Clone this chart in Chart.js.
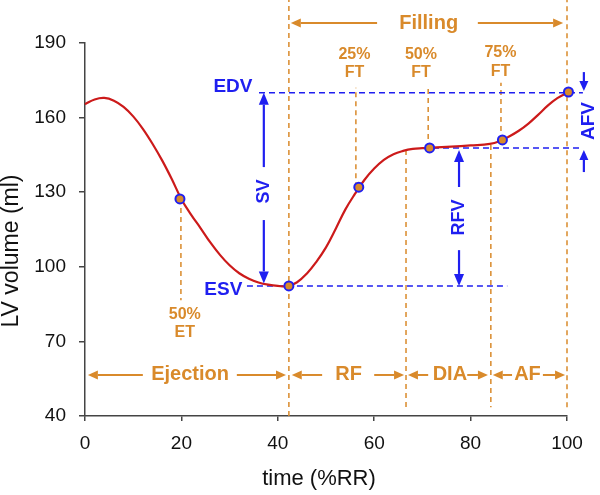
<!DOCTYPE html>
<html><head><meta charset="utf-8">
<script src="https://cdn.jsdelivr.net/npm/chart.js@4/dist/chart.umd.min.js"></script>
<style>html,body{margin:0;padding:0;background:#fff;}canvas{display:block;}</style>
</head><body>
<canvas id="c" width="600" height="495"></canvas>
<script>
// ---- data (time in %RR, LV volume in ml) ----
const timeValues   = [0, 2, 4, 6, 8, 10, 12, 14, 16, 18, 20, 22, 24, 26, 28, 30, 32, 34, 36, 38, 40, 42, 44, 46, 48, 50, 52, 54, 56, 58, 60, 62, 64, 66, 68, 70, 72, 76, 80, 84, 86, 88, 90, 92, 94, 96, 98, 100.3];
const volumeValues = [165.4, 167.3, 167.9, 166.8, 164.3, 160.5, 155.5, 149.5, 142.8, 135.3, 127.2, 121.0, 115.5, 109.8, 104.8, 100.6, 97.4, 95.2, 93.7, 92.8, 92.3, 92.2, 93.8, 97.2, 102.0, 107.8, 115.2, 123.0, 129.3, 135.0, 139.5, 143.0, 145.3, 146.6, 147.4, 147.7, 147.9, 148.3, 148.8, 149.4, 150.5, 152.4, 154.7, 157.6, 161.1, 164.8, 167.8, 170.3];
const markerTimes   = [19.7, 42.3, 56.8, 71.5, 86.6, 100.3];
const markerVolumes = [127.3, 92.3, 132.0, 147.8, 151.0, 170.3];
const xTickValues = [0, 20, 40, 60, 80, 100];
const yTickValues = [40, 70, 100, 130, 160, 190];
const edv = 170, esv = 92.3, rfv = 147.8;

const ORANGE = '#d98a2b', BLUE = '#1f1ff0', AXIS = '#444';
const FONT = '"Liberation Sans", Arial, sans-serif';

// annotation geometry in data units
const orangeV = [ // time, from, to
  [42.3, 40, 208], [100, 43.5, 208], [66.6, 147, 43.5], [84.2, 149, 43.5],
  [19.9, 127.3, 86.5], [56.2, 132, 172], [71.2, 147.8, 172], [86.3, 151, 174]
];
const blueH = [ // volume, from, to
  [edv, 36.1, 103.3], [rfv, 72.2, 103.3], [esv, 33.6, 87.6]
];
const phases = [ // name, leftTip, leftEnd, textCenter, rightStart, rightTip, volume
  ['Ejection', 0.6, 12.0, 21.8, 31.5, 41.7, 56.5],
  ['RF', 42.9, 49.2, 54.7, 60.0, 66.2, 56.5],
  ['DIA', 67.0, 71.2, 75.7, 79.3, 83.6, 56.5],
  ['AF', 84.6, 88.6, 91.8, 95.0, 99.6, 56.5],
  ['Filling', 42.7, 60.6, 71.3, 81.5, 99.2, 198]
];

function arrow(ctx, x1, y1, x2, y2, color, lw, hl, hw) {
  const a = Math.atan2(y2 - y1, x2 - x1);
  const bx = x2 - hl * Math.cos(a), by = y2 - hl * Math.sin(a);
  ctx.save();
  ctx.strokeStyle = color; ctx.fillStyle = color; ctx.lineWidth = lw; ctx.setLineDash([]);
  ctx.beginPath(); ctx.moveTo(x1, y1); ctx.lineTo(bx, by); ctx.stroke();
  ctx.beginPath();
  ctx.moveTo(x2, y2);
  ctx.lineTo(bx + hw / 2 * Math.sin(a), by - hw / 2 * Math.cos(a));
  ctx.lineTo(bx - hw / 2 * Math.sin(a), by + hw / 2 * Math.cos(a));
  ctx.closePath(); ctx.fill();
  ctx.restore();
}
function text(ctx, s, x, y, font, color, rot) {
  ctx.save();
  ctx.font = font; ctx.fillStyle = color; ctx.textAlign = 'center'; ctx.textBaseline = 'middle';
  ctx.translate(x, y); if (rot) ctx.rotate(rot);
  ctx.fillText(s, 0, 0);
  ctx.restore();
}

const annot = {
  id: 'annot',
  beforeDatasetsDraw(chart) {
    const ctx = chart.ctx, X = chart.scales.x, Y = chart.scales.y;
    const px = t => X.getPixelForValue(t), py = v => Y.getPixelForValue(v);
    ctx.save();
    ctx.lineWidth = 1.5;
    ctx.strokeStyle = ORANGE; ctx.setLineDash([5, 4]);
    orangeV.forEach(([t, a, b]) => {
      ctx.beginPath(); ctx.moveTo(px(t), py(a)); ctx.lineTo(px(t), py(b)); ctx.stroke();
    });
    ctx.strokeStyle = BLUE; ctx.setLineDash([6, 4]);
    blueH.forEach(([v, a, b]) => {
      ctx.beginPath(); ctx.moveTo(px(a), py(v)); ctx.lineTo(px(b), py(v)); ctx.stroke();
    });
    ctx.restore();
  },
  afterDatasetsDraw(chart) {
    const ctx = chart.ctx, X = chart.scales.x, Y = chart.scales.y;
    const px = t => X.getPixelForValue(t), py = v => Y.getPixelForValue(v);
    phases.forEach(([name, lt, le, tc, rs, rt, v]) => {
      const y = py(v);
      arrow(ctx, px(le), y, px(lt), y, ORANGE, 2, 10, 9);
      arrow(ctx, px(rs), y, px(rt), y, ORANGE, 2, 10, 9);
      text(ctx, name, px(tc), y, 'bold 20px ' + FONT, ORANGE);
    });
    const fb = 'bold 16px ' + FONT;
    text(ctx, '50%', px(20.7), py(80.6), fb, ORANGE); text(ctx, 'ET', px(20.7), py(73.4), fb, ORANGE);
    text(ctx, '25%', px(55.9), py(185.2), fb, ORANGE); text(ctx, 'FT', px(55.9), py(177.9), fb, ORANGE);
    text(ctx, '50%', px(69.7), py(185.2), fb, ORANGE); text(ctx, 'FT', px(69.7), py(177.9), fb, ORANGE);
    text(ctx, '75%', px(86.2), py(186.0), fb, ORANGE); text(ctx, 'FT', px(86.2), py(178.5), fb, ORANGE);
    text(ctx, 'EDV', px(30.7), py(172.3), 'bold 19px ' + FONT, BLUE);
    text(ctx, 'ESV', px(28.7), py(90.7), 'bold 19px ' + FONT, BLUE);
    arrow(ctx, px(37.1), py(140.1), px(37.1), py(edv), BLUE, 2.2, 12, 10);
    arrow(ctx, px(37.1), py(118.8), px(37.1), py(93.3), BLUE, 2.2, 12, 10);
    text(ctx, 'SV', px(37.1), py(130.3), 'bold 18px ' + FONT, BLUE, -Math.PI / 2);
    arrow(ctx, px(77.6), py(132.1), px(77.6), py(147), BLUE, 2.2, 12, 10);
    arrow(ctx, px(77.6), py(106.7), px(77.6), py(esv), BLUE, 2.2, 12, 10);
    text(ctx, 'RFV', px(77.6), py(119.8), 'bold 18px ' + FONT, BLUE, -Math.PI / 2);
    arrow(ctx, px(103.5), py(178.3), px(103.5), py(170.7), BLUE, 2.2, 10, 9);
    arrow(ctx, px(103.5), py(138.1), px(103.5), py(147), BLUE, 2.2, 10, 9);
    text(ctx, 'AFV', px(104.6), py(158.6), 'bold 19px ' + FONT, BLUE, -Math.PI / 2);
    text(ctx, 'LV volume (ml)', 12, 251, '23px ' + FONT, '#111', -Math.PI / 2);
    text(ctx, 'time (%RR)', 319, 479, '22px ' + FONT, '#111');
  }
};

new Chart(document.getElementById('c'), {
  type: 'line',
  data: {
    datasets: [
      {
        type: 'scatter', label: 'points',
        data: markerTimes.map((t, i) => ({ x: t, y: markerVolumes[i] })),
        showLine: false, pointRadius: 4.5, pointBackgroundColor: '#d98a2b',
        pointBorderColor: '#2020f0', pointBorderWidth: 2, clip: false, order: 0
      },
      {
        label: 'LV volume',
        data: timeValues.map((t, i) => ({ x: t, y: volumeValues[i] })),
        borderColor: '#cc1a1a', borderWidth: 2.2, pointRadius: 0, fill: false,
        tension: 0.4, clip: false, order: 1
      }
    ]
  },
  options: {
    responsive: false, animation: false, devicePixelRatio: 1,
    layout: { padding: { top: 43, right: 33, left: 0, bottom: 0 } },
    plugins: { legend: { display: false }, tooltip: { enabled: false } },
    scales: {
      x: {
        type: 'linear', min: 0, max: 100,
        afterFit: s => { s.height = 79; },
        afterBuildTicks: s => { s.ticks = xTickValues.map(v => ({ value: v })); },
        border: { display: true, color: AXIS, width: 1.5 },
        grid: { drawOnChartArea: false, drawTicks: true, tickLength: 5, color: AXIS, lineWidth: 1.5 },
        ticks: { font: { family: FONT, size: 19 }, color: '#111', padding: 11, maxRotation: 0 }
      },
      y: {
        type: 'linear', min: 40, max: 190,
        afterFit: s => { s.width = 85; },
        afterBuildTicks: s => { s.ticks = yTickValues.map(v => ({ value: v })); },
        border: { display: true, color: AXIS, width: 1.5 },
        grid: { drawOnChartArea: false, drawTicks: true, tickLength: 6, color: AXIS, lineWidth: 1.5 },
        ticks: { font: { family: FONT, size: 19 }, color: '#111', padding: 13 }
      }
    }
  },
  plugins: [annot]
});
</script>
</body></html>
